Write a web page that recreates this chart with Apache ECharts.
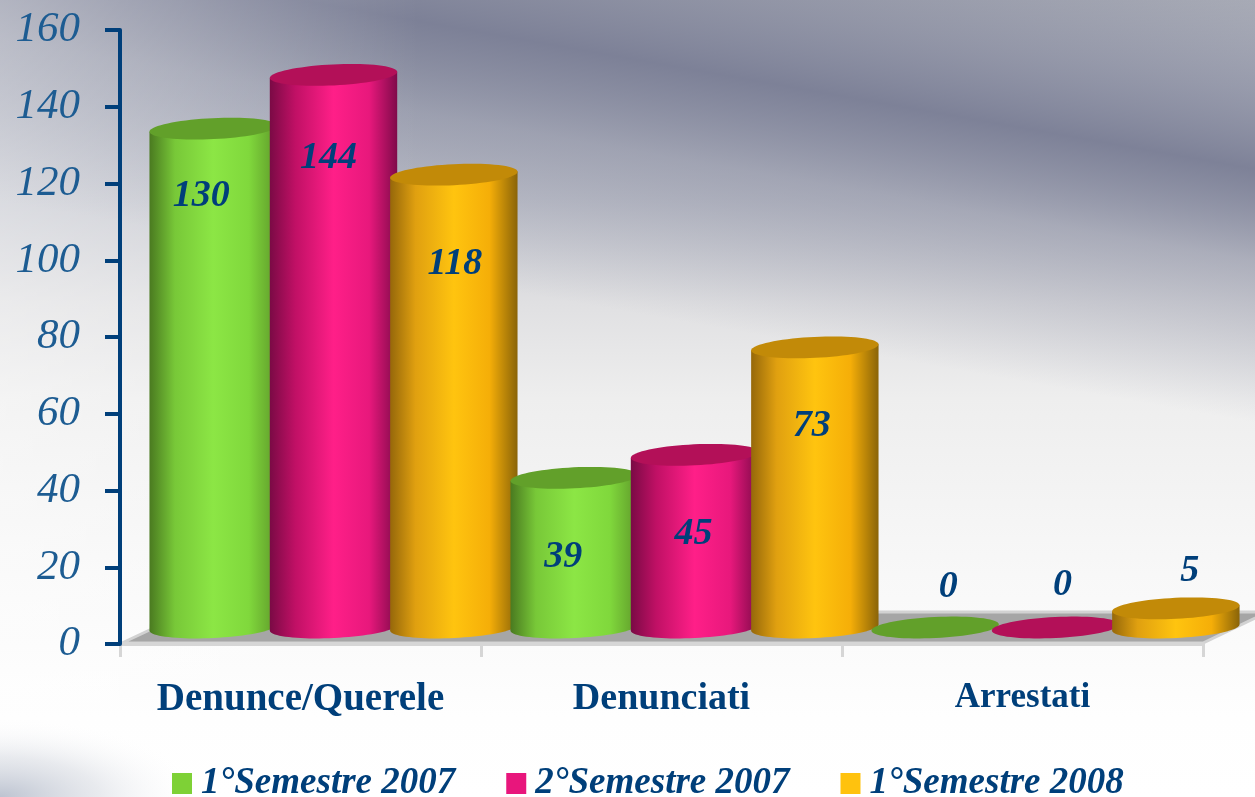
<!DOCTYPE html>
<html><head><meta charset="utf-8">
<style>html,body{margin:0;padding:0;background:#fff}#c{width:1255px;height:797px}</style>
<script src="https://cdn.jsdelivr.net/npm/echarts@6/dist/echarts.min.js"></script>
</head><body><div id="c"></div>
<script>
const categories = ['Denunce/Querele', 'Denunciati', 'Arrestati'];
const seriesNames = ['1°Semestre 2007', '2°Semestre 2007', '1°Semestre 2008'];
const values2007a = [130, 39, 0];
const values2007b = [144, 45, 0];
const values2008a = [118, 73, 5];
const yTicks = [0, 20, 40, 60, 80, 100, 120, 140, 160];

const allValues = [values2007a, values2007b, values2008a];
const NAVY = '#003f7a';
const SERIF = '"Liberation Serif", serif';
const looks = [
  { top: '#62a02a', stops: ['#4a7a20', '#78c838', '#8ce645', '#80d83c', '#5f9a2a'], key: '#7ed136' },
  { top: '#b31058', stops: ['#7a0a45', '#c01065', '#ff1f88', '#e8187c', '#800a4a'], key: '#e8167c' },
  { top: '#c28a08', stops: ['#96680a', '#e0a010', '#ffc40f', '#f5ae08', '#8a6408'], key: '#ffc20e' }
];
const DX = 33, DY = 16.5, TILT = 2.8 * Math.PI / 180, RY = 10.5;
// label placement relative to the cylinder top, per series / category
const nudges = [
  [[-12, 68], [-11, 79], [13, -40]],
  [[-5, 83], [-1, 79], [7, -42]],
  [[1, 90], [-3, 79], [14, -37]]
];

function ellipsePts(cx, cy, rx, from, to, n) {
  const out = [];
  for (let k = 0; k <= n; k++) {
    const t = from + (to - from) * k / n;
    const ex = rx * Math.cos(t), ey = RY * Math.sin(t);
    out.push([cx + ex * Math.cos(TILT) + ey * Math.sin(TILT), cy - ex * Math.sin(TILT) + ey * Math.cos(TILT)]);
  }
  return out;
}

function cylinder(si) {
  return function (params, api) {
    const cat = api.value(0), val = api.value(1);
    const band = api.size([1, 0])[0];
    const w = band / 3;
    const rx = w * 0.53;
    const base = api.coord([cat, 0]);
    const top = api.coord([cat, val]);
    const cx = base[0] + (si - 1) * w + DX;
    const by = base[1] - DY, ty = top[1] - DY;
    const look = looks[si];
    const order = cat * 10 + si * 2;
    const children = [];
    if (val > 0) {
      const lower = ellipsePts(cx, by, rx, 0, Math.PI, 40);
      const pts = [[cx + rx * Math.cos(TILT), ty - rx * Math.sin(TILT)]]
        .concat(lower)
        .concat([[cx - rx * Math.cos(TILT), ty + rx * Math.sin(TILT)]]);
      children.push({
        type: 'polygon', z2: order, shape: { points: pts },
        style: { fill: new echarts.graphic.LinearGradient(0, 0, 1, 0, [
          { offset: 0, color: look.stops[0] }, { offset: 0.2, color: look.stops[1] },
          { offset: 0.5, color: look.stops[2] }, { offset: 0.78, color: look.stops[3] },
          { offset: 1, color: look.stops[4] }]) }
      });
    }
    children.push({
      type: 'polygon', z2: order + 1, shape: { points: ellipsePts(cx, ty, rx, 0, 2 * Math.PI, 72) },
      style: { fill: look.top }
    });
    const n = nudges[si][cat];
    children.push({
      type: 'text', z2: 100,
      style: { text: String(val), x: cx + n[0], y: ty + n[1], align: 'center', verticalAlign: 'middle',
               fill: NAVY, font: 'italic bold 38px ' + SERIF }
    });
    return { type: 'group', children };
  };
}

const option = {
  animation: false,
  backgroundColor: '#ffffff',
  textStyle: { fontFamily: SERIF },
  graphic: [
    { type: 'rect', z: -10, silent: true, shape: { x: 0, y: 0, width: 1255, height: 797 },
      style: { fill: new echarts.graphic.LinearGradient(0, 0, 0, 1, [
        { offset: 0, color: '#a8abb6' }, { offset: 0.12, color: '#b5b8c3' }, { offset: 0.25, color: '#c6c8d0' },
        { offset: 0.38, color: '#e0e0e2' }, { offset: 0.5, color: '#eeeeee' }, { offset: 0.72, color: '#f8f8f8' },
        { offset: 0.9, color: '#fefefe' }, { offset: 1, color: '#ffffff' }]) } },
    { type: 'rect', z: -9, silent: true, x: 627, y: 58, originX: 0, originY: 0, rotation: -0.175,
      shape: { x: -1000, y: -170, width: 2000, height: 420 },
      style: { fill: new echarts.graphic.LinearGradient(0, 0, 0, 1, [
        { offset: 0, color: 'rgba(122,126,149,0)' }, { offset: 0.22, color: 'rgba(122,126,149,0.5)' },
        { offset: 0.405, color: 'rgba(122,126,149,0.95)' }, { offset: 0.62, color: 'rgba(122,126,149,0.45)' },
        { offset: 1, color: 'rgba(122,126,149,0)' }]) } },
    { type: 'rect', z: -9, silent: true, shape: { x: 0, y: 0, width: 420, height: 797 },
      style: { fill: new echarts.graphic.LinearGradient(0, 0, 1, 0, [
        { offset: 0, color: 'rgba(255,255,255,0.35)' }, { offset: 1, color: 'rgba(255,255,255,0)' }]) } },
    { type: 'rect', z: -8, silent: true, x: 0, y: 717, scaleX: 2.5, shape: { x: 0, y: 0, width: 80, height: 80 },
      style: { fill: new echarts.graphic.RadialGradient(0, 1, 1, [
        { offset: 0, color: 'rgba(185,192,206,0.95)' }, { offset: 0.5, color: 'rgba(210,214,222,0.5)' },
        { offset: 1, color: 'rgba(255,255,255,0)' }]) } }
  ],
  legend: {
    data: seriesNames, left: 172, top: 765, icon: 'rect', itemWidth: 20, itemHeight: 21, itemGap: 51,
    selectedMode: false, padding: 0,
    textStyle: { color: NAVY, fontFamily: SERIF, fontStyle: 'italic', fontWeight: 'bold', fontSize: 37, padding: [0, 0, 0, 4] }
  },
  grid: { left: 120, right: 52, top: 30, bottom: 153, containLabel: false },
  xAxis: {
    type: 'category', data: categories, boundaryGap: true, z: 1,
    axisLine: { lineStyle: { color: '#d6d6d6', width: 4 } },
    axisTick: { show: true, interval: 0, length: 13, lineStyle: { color: '#d6d6d6', width: 3 }, alignWithLabel: false },
    axisLabel: { interval: 0, hideOverlap: false, color: NAVY, fontFamily: SERIF, fontWeight: 'bold', fontSize: 35, margin: 36,
      formatter: (v, i) => '{c' + i + '|' + v + '}',
      rich: {
        c0: { color: NAVY, fontFamily: SERIF, fontWeight: 'bold', fontSize: 39 },
        c1: { color: NAVY, fontFamily: SERIF, fontWeight: 'bold', fontSize: 38 },
        c2: { color: NAVY, fontFamily: SERIF, fontWeight: 'bold', fontSize: 35 }
      } }
  },
  yAxis: {
    type: 'value', min: 0, max: 160, interval: 20, z: 3,
    splitLine: { show: false },
    axisLine: { show: true, lineStyle: { color: NAVY, width: 4 } },
    axisTick: { show: true, length: 15, lineStyle: { color: NAVY, width: 4 } },
    axisLabel: { color: '#1d5c92', fontFamily: SERIF, fontStyle: 'italic', fontSize: 43, margin: 40,
      formatter: v => yTicks.includes(v) ? String(v) : '' }
  },
  series: [
    { type: 'custom', name: 'floor', silent: true, coordinateSystem: 'cartesian2d', clip: false, z: 0,
      data: [[0, 0]],
      renderItem: function (params, api) {
        const band = api.size([1, 0])[0];
        const p = api.coord([0, 0]);
        const x0 = p[0] - band / 2, x1 = x0 + band * categories.length, y0 = p[1];
        return { type: 'polygon',
          shape: { points: [[x0 + 2, y0 - 1], [x0 + 68, y0 - 32], [x1 + 65, y0 - 32], [x1, y0 - 1]] },
          style: { fill: '#a6a6a6', stroke: '#d2d2d2', lineWidth: 3 } };
      } }
  ].concat(seriesNames.map((name, si) => ({
    type: 'custom', name, coordinateSystem: 'cartesian2d', clip: false, z: 2,
    itemStyle: { color: looks[si].key },
    encode: { x: 0, y: 1 },
    data: allValues[si].map((v, i) => [i, v]),
    renderItem: cylinder(si)
  })))
};
const chart = echarts.init(document.getElementById('c'), null, { renderer: 'canvas' });
chart.setOption(option);
</script></body></html>
